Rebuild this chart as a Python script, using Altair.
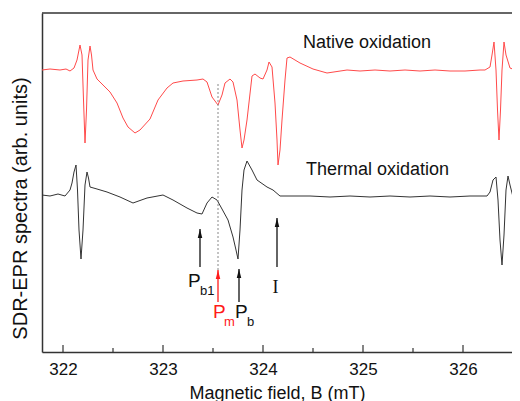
import altair as alt
import pandas as pd

# ---------------- data ----------------
# Magnetic field (mT) and signal (arb. units, relative to each trace's baseline)
native_B = [321.79, 321.87, 321.97, 322.03, 322.07, 322.11, 322.14, 322.17, 322.19, 322.205,
            322.22, 322.235, 322.25, 322.27, 322.285, 322.30, 322.34, 322.40, 322.47, 322.54,
            322.60, 322.65, 322.72, 322.77, 322.87, 322.95, 323.04, 323.10, 323.20, 323.34,
            323.40, 323.44, 323.49, 323.55, 323.59, 323.62, 323.67, 323.70, 323.74, 323.77,
            323.79, 323.81, 323.84, 323.89, 323.92, 323.97, 324.00, 324.04, 324.06, 324.09,
            324.12, 324.14, 324.15, 324.17, 324.19, 324.22, 324.24, 324.27, 324.37, 324.50,
            324.64, 324.84, 324.97, 325.12, 325.27, 325.42, 325.57, 325.72, 325.87, 326.02,
            326.17, 326.22, 326.27, 326.29, 326.31, 326.33, 326.345, 326.36, 326.375, 326.39,
            326.41, 326.43, 326.47, 326.57]
native_s = [0, 1, 0, 1, -1, 2, 10, 25, 15, -30,
            -73, -40, 10, 24, 15, 0, -9, -15, -22, -33,
            -48, -57, -63, -60, -49, -30, -18, -13, -11, -10,
            -9, -12, -27, -35, -25, -13, -9, -12, -30, -60,
            -78, -70, -50, -6, -4, -8, -9, 0, 8, 3,
            -33, -70, -95, -80, -50, -10, 12, 13, 7, 1,
            -3, 0, -1, 0, -1, 0, -1, 0, -1, -1,
            0, 0, 3, 15, 28, 0, -40, -70, -40, 0,
            28, 15, 2, -2]

thermal_B = [321.79, 321.87, 321.95, 322.02, 322.07, 322.09, 322.11, 322.13, 322.145, 322.16,
             322.18, 322.20, 322.22, 322.24, 322.255, 322.27, 322.34, 322.44, 322.57, 322.70,
             322.84, 323.00, 323.10, 323.24, 323.34, 323.39, 323.44, 323.49, 323.54, 323.59,
             323.65, 323.70, 323.73, 323.75, 323.77, 323.79, 323.81, 323.84, 323.89, 323.94,
             324.04, 324.10, 324.17, 324.30, 324.47, 324.67, 324.87, 325.07, 325.27, 325.47,
             325.67, 325.87, 326.07, 326.24, 326.27, 326.30, 326.33, 326.35, 326.37, 326.39,
             326.41, 326.43, 326.45, 326.47, 326.50, 326.57]
thermal_s = [0, -1, 1, -1, 5, 12, 23, 30, 5, -35,
             -64, -35, 10, 23, 17, 8, 6, 3, -2, -8,
             -3, 0, -5, -13, -18, -19, -8, -2, -5, -14,
             -25, -42, -55, -64, -35, 5, 25, 34, 25, 15,
             8, 5, -1, -1, -1, -2, -1, -2, -1, -2,
             -1, -2, -1, -1, 3, 15, 18, -5, -45, -70,
             -40, 5, 19, 10, -2, -2]

native_offset = 282
thermal_offset = 157

major_ticks = [322, 323, 324, 325, 326]
minor_ticks = [322.5, 323.5, 324.5, 325.5]

# arrows: field position, tail and tip heights
arrow_B = [323.37, 323.55, 323.76, 324.14]
arrow_tail = [85, 50, 50, 85]
arrow_tip = [123, 82, 83, 134]
arrow_color = ["#111111", "#ff1a1a", "#111111", "#111111"]

marker_B = 323.55
marker_lo, marker_hi = 82, 270

X_DOMAIN = [321.79, 326.49]
Y_DOMAIN = [0, 339]
W, H = 470, 339
FONT = "Liberation Sans"

native = pd.DataFrame({"B": native_B, "v": [native_offset + s for s in native_s]})
thermal = pd.DataFrame({"B": thermal_B, "v": [thermal_offset + s for s in thermal_s]})

xs = alt.Scale(domain=X_DOMAIN, nice=False, zero=False)
ys = alt.Scale(domain=Y_DOMAIN, nice=False, zero=False)

x_axis = alt.Axis(values=major_ticks, format="d", ticks=False, tickSize=0, grid=False,
                  labelFontSize=17, labelFont=FONT, labelColor="#111", labelPadding=9,
                  domainColor="#333", domainWidth=1.5,
                  title="Magnetic field, B (mT)", titleFont=FONT, titleFontSize=18,
                  titleFontWeight="normal", titleColor="#111", titlePadding=7)
y_axis = alt.Axis(ticks=False, labels=False, grid=False, domainColor="#333", domainWidth=1.5,
                  title="SDR-EPR spectra (arb. units)", titleFont=FONT, titleFontSize=20,
                  titleFontWeight="normal", titleColor="#111", titleX=-22, titleY=195,
                  titleAlign="center", titleBaseline="middle", titleAngle=270)


def X(field):
    return alt.X(field, scale=xs, axis=x_axis)


def Y(field):
    return alt.Y(field, scale=ys, axis=y_axis)


red_line = alt.Chart(native).mark_line(color="#ff4a4a", strokeWidth=1, clip=True).encode(
    x=X("B:Q"), y=Y("v:Q"))
black_line = alt.Chart(thermal).mark_line(color="#333333", strokeWidth=1, clip=True).encode(
    x=X("B:Q"), y=Y("v:Q"))

top_frame = alt.Chart(pd.DataFrame({"a": [0]})).mark_rule(color="#333", strokeWidth=1.5).encode(
    x=alt.value(0), x2=alt.value(W), y=alt.value(0))

major = alt.Chart(pd.DataFrame({"B": major_ticks})).mark_rule(color="#333", strokeWidth=1.2).encode(
    x=X("B:Q"), y=alt.value(H), y2=alt.value(H - 7))
minor = alt.Chart(pd.DataFrame({"B": minor_ticks})).mark_rule(color="#333", strokeWidth=1.2).encode(
    x=X("B:Q"), y=alt.value(H), y2=alt.value(H - 4))

marker = alt.Chart(pd.DataFrame({"B": [marker_B], "lo": [marker_lo], "hi": [marker_hi]})).mark_rule(
    color="#888", strokeWidth=1, strokeDash=[2, 2]).encode(
    x=X("B:Q"), y=Y("lo:Q"), y2="hi:Q")

arrows_df = pd.DataFrame({"B": arrow_B, "tail": arrow_tail, "tip": arrow_tip, "c": arrow_color})
shafts = alt.Chart(arrows_df).mark_rule(strokeWidth=1.3).encode(
    x=X("B:Q"), y=Y("tail:Q"), y2="tip:Q", color=alt.Color("c:N", scale=None))
heads = alt.Chart(arrows_df).mark_point(shape="M0,-1L-0.5,1L0.5,1Z", filled=True, size=81,
                                        opacity=1, yOffset=4.5).encode(
    x=X("B:Q"), y=Y("tip:Q"), color=alt.Color("c:N", scale=None))


def label(texts, B, v, color="#111", size=18, font=FONT, align="left"):
    df = pd.DataFrame({"t": texts, "B": B, "v": v})
    return alt.Chart(df).mark_text(font=font, fontSize=size, color=color, align=align,
                                   baseline="alphabetic").encode(
        x=X("B:Q"), y=Y("v:Q"), text="t:N")


titles = label(["Native oxidation", "Thermal oxidation"], [324.40, 324.43], [304, 177], size=18)
p_big = label(["P", "P"], [323.25, 323.72], [65, 34], size=19)
p_sub = label(["b1", "b"], [323.37, 323.84], [57, 26], size=13)
pm_big = label(["P"], [323.50], [34], color="#ff1a1a", size=19)
pm_sub = label(["m"], [323.61], [26], color="#ff1a1a", size=13)
i_lab = label(["I"], [324.125], [59], size=18, font="Liberation Serif", align="center")

chart = alt.layer(
    red_line, black_line, top_frame, major, minor, marker, shafts, heads,
    titles, p_big, p_sub, pm_big, pm_sub, i_lab,
).properties(
    width=W, height=H, autosize="none",
    padding={"left": 34, "top": 5, "right": 0, "bottom": 56},
    background="white",
).configure_view(stroke=None)

chart.save("out.html", embed_options={"renderer": "svg", "actions": False})
